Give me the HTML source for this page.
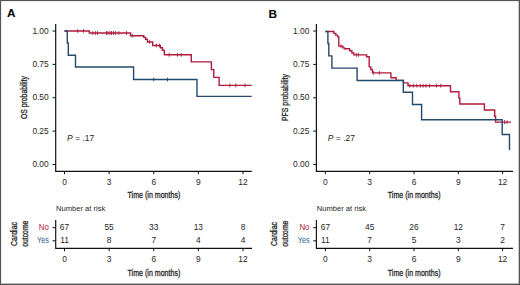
<!DOCTYPE html>
<html><head><meta charset="utf-8"><title>Kaplan-Meier</title>
<style>
html,body{margin:0;padding:0;background:#fff;}
svg{display:block;}
text{font-family:"Liberation Sans",sans-serif;}
.tk{font-size:8.4px;}
.pv{font-size:8.5px;}
.nr{font-size:7.8px;}
.rk{font-size:8.8px;}
.cond{font-size:9.6px;stroke:#262626;stroke-width:0.3px;}
.lbl{font-size:11.8px;font-weight:bold;fill:#000;}
</style></head>
<body>
<svg fill="#262626" width="520" height="285" viewBox="0 0 520 285">
<rect x="0" y="0" width="520" height="285" fill="#fff"/>
<text x="7.1" y="17.3" class="lbl">A</text>
<text x="268.6" y="17.5" class="lbl">B</text>
<path d="M55.7,24 V171.3 H251.8" fill="none" stroke="#111" stroke-width="1.2"/>
<path d="M52.5,31.0 H55.7" stroke="#111" stroke-width="1"/>
<text x="48.7" y="33.5" text-anchor="end" class="tk">1.00</text>
<path d="M52.5,64.4 H55.7" stroke="#111" stroke-width="1"/>
<text x="48.7" y="66.9" text-anchor="end" class="tk">0.75</text>
<path d="M52.5,97.75 H55.7" stroke="#111" stroke-width="1"/>
<text x="48.7" y="100.25" text-anchor="end" class="tk">0.50</text>
<path d="M52.5,131.1 H55.7" stroke="#111" stroke-width="1"/>
<text x="48.7" y="133.6" text-anchor="end" class="tk">0.25</text>
<path d="M52.5,164.5 H55.7" stroke="#111" stroke-width="1"/>
<text x="48.7" y="167.0" text-anchor="end" class="tk">0.00</text>
<path d="M64.5,171.3 V174.2" stroke="#111" stroke-width="1"/>
<text x="64.5" y="184.6" text-anchor="middle" class="tk">0</text>
<path d="M109.125,171.3 V174.2" stroke="#111" stroke-width="1"/>
<text x="109.125" y="184.6" text-anchor="middle" class="tk">3</text>
<path d="M153.75,171.3 V174.2" stroke="#111" stroke-width="1"/>
<text x="153.75" y="184.6" text-anchor="middle" class="tk">6</text>
<path d="M198.375,171.3 V174.2" stroke="#111" stroke-width="1"/>
<text x="198.375" y="184.6" text-anchor="middle" class="tk">9</text>
<path d="M243.0,171.3 V174.2" stroke="#111" stroke-width="1"/>
<text x="243.0" y="184.6" text-anchor="middle" class="tk">12</text>
<text x="127.55" y="198.2" class="cond" textLength="52.8" lengthAdjust="spacingAndGlyphs">Time (in months)</text>
<text transform="translate(27.4,97.6) rotate(-90)" x="-21.5" y="0" class="cond" textLength="43" lengthAdjust="spacingAndGlyphs">OS probability</text>
<text x="67.1" y="140.8" class="pv"><tspan font-style="italic">P</tspan> = .17</text>
<g transform="translate(0,0)">
<path d="M64.5,31 H89.3 V33 H130.5 V35.8 H143.8 V37.4 H145.6 V39.3 H147.4 V42 H152.7 V45.5 H160.4 V47.8 H162.4 V50.2 H164.4 V54.8 H191.3 V61.9 H211.4 V69.6 H213.8 V77.4 H219.1 V85.4 H251.7" fill="none" stroke="#b01a3c" stroke-width="1.4"/>
<path d="M77.8,29.1 V32.9" stroke="#b01a3c" stroke-width="0.9"/>
<path d="M83.5,29.1 V32.9" stroke="#b01a3c" stroke-width="0.9"/>
<path d="M92.8,31.1 V34.9" stroke="#b01a3c" stroke-width="0.9"/>
<path d="M95.5,31.1 V34.9" stroke="#b01a3c" stroke-width="0.9"/>
<path d="M97.5,31.1 V34.9" stroke="#b01a3c" stroke-width="0.9"/>
<path d="M106.5,31.1 V34.9" stroke="#b01a3c" stroke-width="0.9"/>
<path d="M108,31.1 V34.9" stroke="#b01a3c" stroke-width="0.9"/>
<path d="M110,31.1 V34.9" stroke="#b01a3c" stroke-width="0.9"/>
<path d="M111.5,31.1 V34.9" stroke="#b01a3c" stroke-width="0.9"/>
<path d="M113.5,31.1 V34.9" stroke="#b01a3c" stroke-width="0.9"/>
<path d="M115.4,31.1 V34.9" stroke="#b01a3c" stroke-width="0.9"/>
<path d="M118.8,31.1 V34.9" stroke="#b01a3c" stroke-width="0.9"/>
<path d="M126.5,31.1 V34.9" stroke="#b01a3c" stroke-width="0.9"/>
<path d="M132.2,33.9 V37.699999999999996" stroke="#b01a3c" stroke-width="0.9"/>
<path d="M149.6,40.1 V43.9" stroke="#b01a3c" stroke-width="0.9"/>
<path d="M156.4,43.6 V47.4" stroke="#b01a3c" stroke-width="0.9"/>
<path d="M159.4,43.6 V47.4" stroke="#b01a3c" stroke-width="0.9"/>
<path d="M169.2,52.9 V56.699999999999996" stroke="#b01a3c" stroke-width="0.9"/>
<path d="M177.5,52.9 V56.699999999999996" stroke="#b01a3c" stroke-width="0.9"/>
<path d="M181.2,52.9 V56.699999999999996" stroke="#b01a3c" stroke-width="0.9"/>
<path d="M229.9,83.5 V87.30000000000001" stroke="#b01a3c" stroke-width="0.9"/>
<path d="M235.8,83.5 V87.30000000000001" stroke="#b01a3c" stroke-width="0.9"/>
<path d="M245,83.5 V87.30000000000001" stroke="#b01a3c" stroke-width="0.9"/>
<path d="M64.5,31 H67.3 V43 H68.3 V55.2 H75.5 V67 H133.6 V79.5 H197 V96.4 H251.7" fill="none" stroke="#23496c" stroke-width="1.4"/>
<path d="M153.7,77.6 V81.4" stroke="#23496c" stroke-width="0.9"/>
<path d="M167.5,77.6 V81.4" stroke="#23496c" stroke-width="0.9"/>
</g>
<text x="56.1" y="211.4" class="nr" textLength="49.2" lengthAdjust="spacingAndGlyphs">Number at risk</text>
<path d="M55.7,220.1 V248.3 H252" fill="none" stroke="#111" stroke-width="1.15"/>
<path d="M52.5,227.7 H55.7 M52.5,240.8 H55.7" stroke="#111" stroke-width="1"/>
<text x="38.7" y="230.0" class="rk" fill="#b8203f" textLength="10.1" lengthAdjust="spacingAndGlyphs">No</text>
<text x="37.0" y="243.0" class="rk" fill="#2f6489" textLength="11.9" lengthAdjust="spacingAndGlyphs">Yes</text>
<text x="64.5" y="230.3" text-anchor="middle" class="tk">67</text>
<text x="64.5" y="243.4" text-anchor="middle" class="tk">11</text>
<path d="M64.5,248.3 V251.2" stroke="#111" stroke-width="1"/>
<text x="64.5" y="261.7" text-anchor="middle" class="tk">0</text>
<text x="109.125" y="230.3" text-anchor="middle" class="tk">55</text>
<text x="109.125" y="243.4" text-anchor="middle" class="tk">8</text>
<path d="M109.125,248.3 V251.2" stroke="#111" stroke-width="1"/>
<text x="109.125" y="261.7" text-anchor="middle" class="tk">3</text>
<text x="153.75" y="230.3" text-anchor="middle" class="tk">33</text>
<text x="153.75" y="243.4" text-anchor="middle" class="tk">7</text>
<path d="M153.75,248.3 V251.2" stroke="#111" stroke-width="1"/>
<text x="153.75" y="261.7" text-anchor="middle" class="tk">6</text>
<text x="198.375" y="230.3" text-anchor="middle" class="tk">13</text>
<text x="198.375" y="243.4" text-anchor="middle" class="tk">4</text>
<path d="M198.375,248.3 V251.2" stroke="#111" stroke-width="1"/>
<text x="198.375" y="261.7" text-anchor="middle" class="tk">9</text>
<text x="243.0" y="230.3" text-anchor="middle" class="tk">8</text>
<text x="243.0" y="243.4" text-anchor="middle" class="tk">4</text>
<path d="M243.0,248.3 V251.2" stroke="#111" stroke-width="1"/>
<text x="243.0" y="261.7" text-anchor="middle" class="tk">12</text>
<text x="127.55" y="275.5" class="cond" textLength="52.8" lengthAdjust="spacingAndGlyphs">Time (in months)</text>
<text transform="translate(16.6,234) rotate(-90)" x="-12" y="0" class="cond" textLength="24" lengthAdjust="spacingAndGlyphs">Cardiac</text>
<text transform="translate(27.6,233.7) rotate(-90)" x="-13" y="0" class="cond" textLength="26" lengthAdjust="spacingAndGlyphs">outcome</text>
<path d="M316.4,24 V171.3 H513" fill="none" stroke="#111" stroke-width="1.2"/>
<path d="M313.2,31.0 H316.4" stroke="#111" stroke-width="1"/>
<text x="309.4" y="33.5" text-anchor="end" class="tk">1.00</text>
<path d="M313.2,64.4 H316.4" stroke="#111" stroke-width="1"/>
<text x="309.4" y="66.9" text-anchor="end" class="tk">0.75</text>
<path d="M313.2,97.75 H316.4" stroke="#111" stroke-width="1"/>
<text x="309.4" y="100.25" text-anchor="end" class="tk">0.50</text>
<path d="M313.2,131.1 H316.4" stroke="#111" stroke-width="1"/>
<text x="309.4" y="133.6" text-anchor="end" class="tk">0.25</text>
<path d="M313.2,164.5 H316.4" stroke="#111" stroke-width="1"/>
<text x="309.4" y="167.0" text-anchor="end" class="tk">0.00</text>
<path d="M325.4,171.3 V174.2" stroke="#111" stroke-width="1"/>
<text x="325.4" y="184.6" text-anchor="middle" class="tk">0</text>
<path d="M369.7,171.3 V174.2" stroke="#111" stroke-width="1"/>
<text x="369.7" y="184.6" text-anchor="middle" class="tk">3</text>
<path d="M414.0,171.3 V174.2" stroke="#111" stroke-width="1"/>
<text x="414.0" y="184.6" text-anchor="middle" class="tk">6</text>
<path d="M458.29999999999995,171.3 V174.2" stroke="#111" stroke-width="1"/>
<text x="458.29999999999995" y="184.6" text-anchor="middle" class="tk">9</text>
<path d="M502.59999999999997,171.3 V174.2" stroke="#111" stroke-width="1"/>
<text x="502.59999999999997" y="184.6" text-anchor="middle" class="tk">12</text>
<text x="387.8" y="198.2" class="cond" textLength="52.8" lengthAdjust="spacingAndGlyphs">Time (in months)</text>
<text transform="translate(288.09999999999997,97.6) rotate(-90)" x="-23.5" y="0" class="cond" textLength="47" lengthAdjust="spacingAndGlyphs">PFS probability</text>
<text x="327.79999999999995" y="140.8" class="pv"><tspan font-style="italic">P</tspan> = .27</text>
<g transform="translate(0,0.5)">
<path d="M325.4,31 H333.9 V32.9 H335.8 V34.6 H337.6 V36.4 H338.8 V45.6 H343 V47.4 H344.5 V48.3 H349.6 V50.3 H351.9 V52.5 H353.8 V54.4 H366.6 V56.2 H369.2 V66.4 H370.8 V69 H372.4 V72.4 H390.9 V77.3 H396.2 V79.9 H403.5 V82.4 H408 V85.2 H450.5 V91.2 H458.9 V97.4 H459.8 V103.5 H484.4 V109.5 H494.7 V115.8 H495.6 V121.6 H511" fill="none" stroke="#b01a3c" stroke-width="1.4"/>
<path d="M341,43.7 V47.5" stroke="#b01a3c" stroke-width="0.9"/>
<path d="M356.3,52.5 V56.3" stroke="#b01a3c" stroke-width="0.9"/>
<path d="M358.4,52.5 V56.3" stroke="#b01a3c" stroke-width="0.9"/>
<path d="M373.7,70.5 V74.30000000000001" stroke="#b01a3c" stroke-width="0.9"/>
<path d="M379.4,70.5 V74.30000000000001" stroke="#b01a3c" stroke-width="0.9"/>
<path d="M409.8,83.3 V87.10000000000001" stroke="#b01a3c" stroke-width="0.9"/>
<path d="M413.3,83.3 V87.10000000000001" stroke="#b01a3c" stroke-width="0.9"/>
<path d="M416.8,83.3 V87.10000000000001" stroke="#b01a3c" stroke-width="0.9"/>
<path d="M420.3,83.3 V87.10000000000001" stroke="#b01a3c" stroke-width="0.9"/>
<path d="M423.1,83.3 V87.10000000000001" stroke="#b01a3c" stroke-width="0.9"/>
<path d="M426,83.3 V87.10000000000001" stroke="#b01a3c" stroke-width="0.9"/>
<path d="M429.5,83.3 V87.10000000000001" stroke="#b01a3c" stroke-width="0.9"/>
<path d="M436.5,83.3 V87.10000000000001" stroke="#b01a3c" stroke-width="0.9"/>
<path d="M440.7,83.3 V87.10000000000001" stroke="#b01a3c" stroke-width="0.9"/>
<path d="M504.5,119.69999999999999 V123.5" stroke="#b01a3c" stroke-width="0.9"/>
<path d="M507,119.69999999999999 V123.5" stroke="#b01a3c" stroke-width="0.9"/>
<path d="M325.4,31 H327.9 V43 H328.8 V55.4 H331.9 V67.6 H357.1 V80 H403.3 V91.7 H412.5 V104 H421.6 V119.2 H502.2 V134 H509.5 V149.5" fill="none" stroke="#23496c" stroke-width="1.4"/>
</g>
<text x="316.8" y="211.4" class="nr" textLength="49.2" lengthAdjust="spacingAndGlyphs">Number at risk</text>
<path d="M316.4,220.1 V248.3 H513" fill="none" stroke="#111" stroke-width="1.15"/>
<path d="M313.2,227.7 H316.4 M313.2,240.8 H316.4" stroke="#111" stroke-width="1"/>
<text x="299.4" y="230.0" class="rk" fill="#b8203f" textLength="10.1" lengthAdjust="spacingAndGlyphs">No</text>
<text x="297.7" y="243.0" class="rk" fill="#2f6489" textLength="11.9" lengthAdjust="spacingAndGlyphs">Yes</text>
<text x="325.4" y="230.3" text-anchor="middle" class="tk">67</text>
<text x="325.4" y="243.4" text-anchor="middle" class="tk">11</text>
<path d="M325.4,248.3 V251.2" stroke="#111" stroke-width="1"/>
<text x="325.4" y="261.7" text-anchor="middle" class="tk">0</text>
<text x="369.7" y="230.3" text-anchor="middle" class="tk">45</text>
<text x="369.7" y="243.4" text-anchor="middle" class="tk">7</text>
<path d="M369.7,248.3 V251.2" stroke="#111" stroke-width="1"/>
<text x="369.7" y="261.7" text-anchor="middle" class="tk">3</text>
<text x="414.0" y="230.3" text-anchor="middle" class="tk">26</text>
<text x="414.0" y="243.4" text-anchor="middle" class="tk">5</text>
<path d="M414.0,248.3 V251.2" stroke="#111" stroke-width="1"/>
<text x="414.0" y="261.7" text-anchor="middle" class="tk">6</text>
<text x="458.29999999999995" y="230.3" text-anchor="middle" class="tk">12</text>
<text x="458.29999999999995" y="243.4" text-anchor="middle" class="tk">3</text>
<path d="M458.29999999999995,248.3 V251.2" stroke="#111" stroke-width="1"/>
<text x="458.29999999999995" y="261.7" text-anchor="middle" class="tk">9</text>
<text x="502.59999999999997" y="230.3" text-anchor="middle" class="tk">7</text>
<text x="502.59999999999997" y="243.4" text-anchor="middle" class="tk">2</text>
<path d="M502.59999999999997,248.3 V251.2" stroke="#111" stroke-width="1"/>
<text x="502.59999999999997" y="261.7" text-anchor="middle" class="tk">12</text>
<text x="387.8" y="275.5" class="cond" textLength="52.8" lengthAdjust="spacingAndGlyphs">Time (in months)</text>
<text transform="translate(277.3,234) rotate(-90)" x="-12" y="0" class="cond" textLength="24" lengthAdjust="spacingAndGlyphs">Cardiac</text>
<text transform="translate(288.3,233.7) rotate(-90)" x="-13" y="0" class="cond" textLength="26" lengthAdjust="spacingAndGlyphs">outcome</text>
<g fill="#555"><rect x="0" y="0" width="520" height="1.1"/><rect x="0" y="0" width="1.1" height="285"/><rect x="518.7" y="0" width="1.3" height="285"/><rect x="0" y="283.6" width="520" height="1.4"/></g>
</svg>
</body></html>
